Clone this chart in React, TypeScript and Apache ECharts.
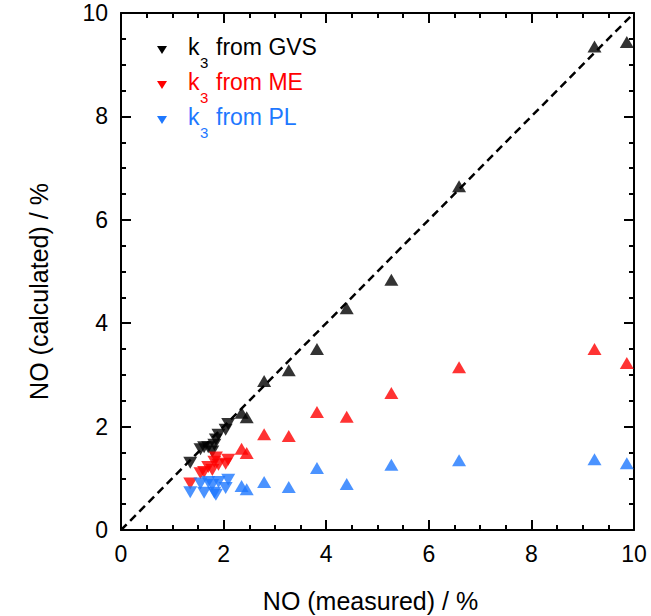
import React, { useEffect, useRef } from "react";
import * as echarts from "echarts";

// Low-concentration group (down triangles)
const lowMeasured = [1.35, 1.55, 1.62, 1.70, 1.78, 1.82, 1.85, 1.90, 2.04, 2.09];
const lowGVS = [1.30, 1.56, 1.60, 1.60, 1.52, 1.65, 1.75, 1.84, 1.94, 2.05];
const lowME = [0.90, 1.10, 1.12, 1.22, 1.16, 1.32, 1.40, 1.26, 1.28, 1.36];
const lowPL = [0.73, 0.90, 0.72, 0.93, 0.87, 0.72, 0.68, 0.93, 0.81, 0.97];

// Higher-concentration group (up triangles)
const highMeasured = [2.35, 2.45, 2.79, 3.27, 3.82, 4.40, 5.27, 6.59, 9.23, 9.86];
const highGVS = [2.27, 2.18, 2.88, 3.09, 3.50, 4.29, 4.84, 6.65, 9.35, 9.44];
const highME = [1.57, 1.49, 1.85, 1.82, 2.28, 2.19, 2.65, 3.15, 3.50, 3.23];
const highPL = [0.85, 0.79, 0.93, 0.83, 1.20, 0.89, 1.26, 1.35, 1.37, 1.29];

const parityLine = [[0, 0], [10, 10]];
const legendNames = ["from GVS", "from ME", "from PL"];

const BLACK = "#000000";
const RED = "#ff0000";
const BLUE = "#1e78ff";
const colors = [BLACK, RED, BLUE];
const FONT = "Liberation Sans, Arial, sans-serif";

const zip = (xs: number[], ys: number[]) => xs.map((x, i) => [x, ys[i]]);

export default function App() {
  const ref = useRef<HTMLDivElement>(null);
  useEffect(() => {
    if (!ref.current) return;
    const chart = echarts.init(ref.current, null, { renderer: "svg" });

    const axisCommon = (show: boolean) => ({
      type: "value" as const,
      min: 0,
      max: 10,
      interval: 2,
      axisLine: { show: true, onZero: false, lineStyle: { color: BLACK, width: 2 } },
      axisTick: { show: true, inside: true, length: 10, lineStyle: { color: BLACK, width: 2 } },
      minorTick: { show: true, splitNumber: 4, length: 5, lineStyle: { color: BLACK, width: 2 } },
      splitLine: { show: false },
      minorSplitLine: { show: false },
      axisLabel: { show, color: BLACK, fontSize: 23, fontFamily: FONT },
    });

    const scatter = (
      name: string,
      data: number[][],
      color: string,
      down: boolean
    ) => ({
      name,
      type: "scatter",
      data,
      symbol: "triangle",
      symbolSize: [14, 12],
      symbolRotate: down ? 180 : 0,
      itemStyle: { color },
      z: 3,
    });

    const legendGraphics: any[] = [];
    const rowsY = [50, 85, 120];
    legendNames.forEach((n, i) => {
      const y = rowsY[i];
      legendGraphics.push({
        type: "polygon",
        shape: { points: [[157, y - 4], [167, y - 4], [162, y + 4]] },
        style: { fill: colors[i] },
      });
      legendGraphics.push({
        type: "text",
        x: 188,
        y: y + 8,
        style: { text: "k", fill: colors[i], fontSize: 23, fontFamily: FONT, verticalAlign: "bottom" },
      });
      legendGraphics.push({
        type: "text",
        x: 200,
        y: y + 20,
        style: { text: "3", fill: colors[i], fontSize: 15, fontFamily: FONT, verticalAlign: "bottom" },
      });
      legendGraphics.push({
        type: "text",
        x: 216,
        y: y + 8,
        style: { text: n, fill: colors[i], fontSize: 23, fontFamily: FONT, verticalAlign: "bottom" },
      });
    });

    chart.setOption({
      animation: false,
      backgroundColor: "#ffffff",
      grid: {
        left: 121,
        top: 13,
        width: 513,
        height: 517,
        containLabel: false,
        outerBoundsMode: "none",
      },
      xAxis: [
        {
          ...axisCommon(true),
          position: "bottom",
          name: "NO (measured) / %",
          nameLocation: "middle",
          nameGap: 58,
          nameMoveOverlap: false,
          nameTextStyle: { color: BLACK, fontSize: 25, fontFamily: FONT, padding: [0, 14, 0, 0] },
          axisLabel: { show: true, color: BLACK, fontSize: 23, fontFamily: FONT, margin: 12 },
        },
        { ...axisCommon(false), position: "top" },
      ],
      yAxis: [
        {
          ...axisCommon(true),
          position: "left",
          name: "NO (calculated) / %",
          nameLocation: "middle",
          nameGap: 70,
          nameMoveOverlap: false,
          nameTextStyle: { color: BLACK, fontSize: 25, fontFamily: FONT, padding: [0, 40, 0, 0] },
          axisLabel: { show: true, color: BLACK, fontSize: 23, fontFamily: FONT, margin: 13 },
        },
        { ...axisCommon(false), position: "right" },
      ],
      series: [
        {
          name: "parity",
          type: "line",
          data: parityLine,
          symbol: "none",
          lineStyle: { color: BLACK, width: 2.5, type: [8, 5] },
          z: 4,
        },
        scatter("GVS low", zip(lowMeasured, lowGVS), BLACK, true),
        scatter("ME low", zip(lowMeasured, lowME), RED, true),
        scatter("PL low", zip(lowMeasured, lowPL), BLUE, true),
        scatter("GVS high", zip(highMeasured, highGVS), BLACK, false),
        scatter("ME high", zip(highMeasured, highME), RED, false),
        scatter("PL high", zip(highMeasured, highPL), BLUE, false),
      ],
      graphic: legendGraphics,
    });
    return () => chart.dispose();
  }, []);
  return (
    <div
      ref={ref}
      style={{ position: "fixed", left: 0, top: 0, width: 651, height: 616, background: "#fff" }}
    />
  );
}
